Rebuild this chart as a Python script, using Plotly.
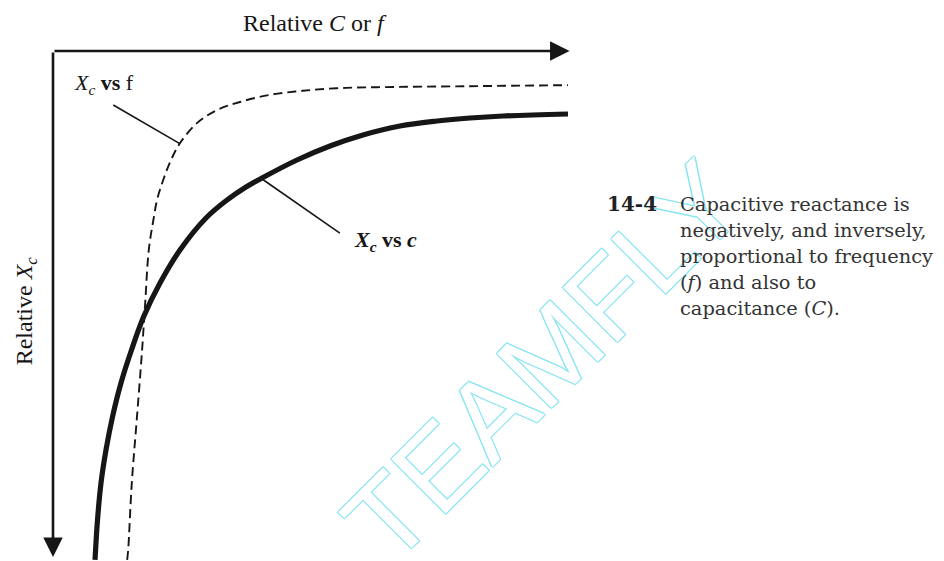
import plotly.graph_objects as go

# relative units: x 0..100 along the C/f axis, y 0..100 down the Xc axis
xc_vs_c_x = [8.16, 8.64, 9.32, 10.29, 11.55, 13.20, 15.24, 17.57, 20.78, 24.66, 29.71,
             33.79, 37.48, 40.58, 47.38, 53.79, 60.19, 67.38, 74.56, 80.97, 87.38, 100.0]
xc_vs_c_y = [99.8, 91.96, 84.71, 78.24, 71.76, 65.10, 58.63, 52.16, 45.49, 39.02, 32.75,
             29.22, 26.67, 24.90, 21.37, 18.63, 16.47, 14.71, 13.73, 13.14, 12.75, 12.35]

xc_vs_f_x = [14.4, 14.6, 15.3, 16.3, 17.3, 17.9, 18.6, 19.6, 20.2, 21.4, 22.9, 24.7,
             28.0, 31.8, 36.3, 42.1, 48.5, 55.1, 62.9, 81.0, 100.0]
xc_vs_f_y = [99.8, 97.8, 84.7, 71.8, 58.6, 49.4, 39.0, 32.5, 29.2, 25.3, 21.4, 18.0,
             14.1, 11.6, 10.0, 8.6, 7.8, 7.3, 7.1, 6.9, 6.7]

# leader lines (label end, curve end)
leader_f = [(11.7, 10.6), (24.7, 18.2)]
leader_c = [(40.6, 25.1), (55.7, 35.7)]

caption_num = "14-4"
caption_lines = [
    "Capacitive reactance is",
    "negatively, and inversely,",
    "proportional to frequency",
    "(<i>f</i>) and also to",
    "capacitance (<i>C</i>).",
]

INK = "#161616"
WM = "#86e4f2"

fig = go.Figure()

fig.add_trace(go.Scatter(
    x=xc_vs_f_x, y=xc_vs_f_y, mode="lines", line_shape="spline",
    line=dict(color=INK, width=1.9, dash="9px,5px"), hoverinfo="skip"
))
fig.add_trace(go.Scatter(
    x=xc_vs_c_x, y=xc_vs_c_y, mode="lines", line_shape="spline",
    line=dict(color=INK, width=5.2), hoverinfo="skip"
))

for (x0, y0), (x1, y1) in (leader_f, leader_c):
    fig.add_shape(type="line", x0=x0, y0=y0, x1=x1, y1=y1, xref="x", yref="y",
                  line=dict(color=INK, width=1.6))

serif = "Liberation Serif"
ann = []

# watermark first so the caption sits on top of it
ann.append(dict(
    x=95.2, y=60.8, xref="x", yref="y", text="TEAMFLY", showarrow=False,
    textangle=-45, xanchor="center", yanchor="middle",
    font=dict(family="Liberation Sans", size=112, color="white",
              shadow=f"1px 1px 0 {WM}, -1px -1px 0 {WM}, 1px -1px 0 {WM}, -1px 1px 0 {WM}")
))

# axes with arrowheads
ann.append(dict(x=100.3, y=0, ax=0, ay=0, xref="x", yref="y", axref="x", ayref="y",
                text="", showarrow=True, arrowhead=2, arrowsize=1.5, arrowwidth=2.6,
                arrowcolor=INK))
ann.append(dict(x=0, y=99.2, ax=0, ay=0, xref="x", yref="y", axref="x", ayref="y",
                text="", showarrow=True, arrowhead=2, arrowsize=1.5, arrowwidth=2.6,
                arrowcolor=INK))

ann.append(dict(x=0.5087, y=1.055, xref="paper", yref="paper",
                text="Relative <i>C</i> or <i>f</i>",
                showarrow=False, xanchor="center", yanchor="middle",
                font=dict(family=serif, size=24, color=INK)))
ann.append(dict(x=-0.052, y=0.49, xref="paper", yref="paper",
                text="Relative <i>X<sub>c</sub></i>",
                showarrow=False, textangle=-90, xanchor="center", yanchor="middle",
                font=dict(family=serif, size=24, color=INK)))
ann.append(dict(x=3.7, y=6.4, xref="x", yref="y", text="<i>X<sub>c</sub></i> <b>vs</b> f",
                showarrow=False, xanchor="left", yanchor="middle",
                font=dict(family=serif, size=22, color=INK)))
ann.append(dict(x=58.0, y=37.2, xref="x", yref="y",
                text="<b><i>X<sub>c</sub></i> vs <i>c</i></b>",
                showarrow=False, xanchor="left", yanchor="middle",
                font=dict(family=serif, size=22, color=INK)))

ann.append(dict(x=1.0718, y=0.700, xref="paper", yref="paper", text=f"<b>{caption_num}</b>",
                showarrow=False, xanchor="left", yanchor="middle",
                font=dict(family="DejaVu Serif", size=20, color="#222222")))
# one annotation per caption line so the line pitch matches the print
for i, line in enumerate(caption_lines):
    ann.append(dict(x=1.2136, y=(561 - 204 - 26.2 * i) / 510, xref="paper", yref="paper",
                    text=line, showarrow=False, xanchor="left", yanchor="middle",
                    font=dict(family="DejaVu Serif", size=19.4, color="#333333")))

# the page body adds an 8px offset, so margins are trimmed by 8
fig.update_layout(
    width=944, height=561,
    margin=dict(l=45, r=384, t=43, b=8),
    paper_bgcolor="white", plot_bgcolor="white",
    showlegend=False,
    xaxis=dict(range=[0, 100], visible=False),
    yaxis=dict(range=[100, 0], visible=False),
    annotations=ann,
)

fig.write_html("out.html")
